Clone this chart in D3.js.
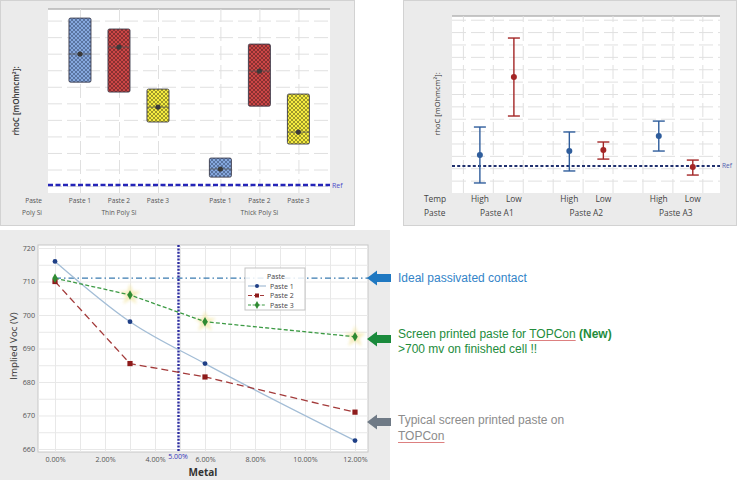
<!DOCTYPE html>
<html><head><meta charset="utf-8">
<script src="https://cdn.jsdelivr.net/npm/d3@7"></script>
<style>body{margin:0;background:#fff}svg{display:block}</style>
</head><body><svg id="c" width="744" height="480"></svg>
<script>
// ---------------- DATA ----------------
// Panel 1 (interval boxes, arbitrary units)
const pasteNames = ["Paste 1","Paste 2","Paste 3"];
const polyGroups = ["Thin Poly Si","Thick Poly Si"];
const boxPaste = ["Paste 1","Paste 2","Paste 3","Paste 1","Paste 2","Paste 3"];
const boxPoly  = ["Thin Poly Si","Thin Poly Si","Thin Poly Si","Thick Poly Si","Thick Poly Si","Thick Poly Si"];
const boxLow   = [6.28, 5.68, 3.87, 0.54, 4.83, 2.54];
const boxHigh  = [10.15, 9.49, 5.86, 1.69, 8.58, 5.56];
const boxMean  = [7.98, 8.40, 4.77, 1.03, 6.95, 3.26];
const boxRef = 0.06;

// Panel 2 (interval plot, arbitrary units)
const tempNames = ["High","Low"];
const pasteA = ["Paste A1","Paste A2","Paste A3"];
const ivPaste = ["Paste A1","Paste A1","Paste A2","Paste A2","Paste A3","Paste A3"];
const ivTemp  = ["High","Low","High","Low","High","Low"];
const ivLow   = [-0.19, 5.22, 0.78, 1.74, 2.39, 0.45];
const ivHigh  = [4.33, 11.52, 3.93, 3.12, 4.81, 1.66];
const ivMean  = [2.07, 8.37, 2.39, 2.47, 3.60, 1.10];
const ivRef = 1.18;

// Panel 3 (Implied Voc vs Metal)
const metal  = [0, 3, 6, 12];
const paste1 = [716, 698, 685.5, 662.5];
const paste2 = [710, 685.5, 681.5, 671];
const paste3 = [711, 706, 698, 693.5];
const idealVoc = 711;
const metalMark = 5;
const xTicks = [0, 2, 4, 6, 8, 10, 12];
const yTicks = [660, 670, 680, 690, 700, 710, 720];
const seriesNames = ["Paste 1","Paste 2","Paste 3"];

// ---------------- DRAW ----------------
const svg = d3.select("#c");
svg.append("rect").attr("width",744).attr("height",480).attr("fill","#fff");
const defs = svg.append("defs");
const F = "'Open Sans','Liberation Sans',Arial,sans-serif";
const A = "'Liberation Sans',Arial,sans-serif";

function hatch(id, color, ink){
  const p = defs.append("pattern").attr("id",id).attr("patternUnits","userSpaceOnUse")
    .attr("width",4).attr("height",4);
  p.append("rect").attr("width",4).attr("height",4).attr("fill",color);
  p.append("path").attr("d","M0,0L4,4M4,0L0,4M-1,3L1,5M3,-1L5,1M-1,1L1,-1M3,5L5,3")
    .attr("stroke",ink).attr("stroke-width",0.6).attr("stroke-opacity",0.8);
}
hatch("hb","#86a8de","#2a3a5a"); hatch("hr","#cc4646","#3a1a1a"); hatch("hy","#f6ec40","#3a3a10");
const hatchIds = ["hb","hr","hy"];

const glow = defs.append("filter").attr("id","glow").attr("x","-50%").attr("y","-50%").attr("width","200%").attr("height","200%");
glow.append("feGaussianBlur").attr("stdDeviation",1.4);

function gridStyle(g, dash){
  g.select(".domain").remove();
  g.selectAll("line").attr("stroke","#e0e0e0").attr("stroke-width",1).attr("stroke-dasharray",dash||null);
}

// ===== Panel 1 =====
svg.append("rect").attr("x",0.5).attr("y",0.5).attr("width",354).attr("height",225)
  .attr("fill","#ebebeb").attr("stroke","#d2d2d2");
const p1 = {l:48,t:9,r:330,b:193};
svg.append("rect").attr("x",p1.l).attr("y",p1.t).attr("width",p1.r-p1.l).attr("height",p1.b-p1.t).attr("fill","#fff");
svg.append("line").attr("x1",p1.l).attr("x2",p1.r).attr("y1",p1.t).attr("y2",p1.t).attr("stroke","#b4b4b4").attr("stroke-width",1.5);
const x1 = d3.scaleLinear().domain([-0.82,6.41]).range([p1.l,p1.r]);
const y1 = d3.scaleLinear().domain([-0.42,10.7]).range([p1.b,p1.t]);
const pos1 = boxPaste.map((p,i)=> pasteNames.indexOf(p) + polyGroups.indexOf(boxPoly[i])*3.6);

svg.append("g").attr("transform",`translate(${p1.l},0)`)
  .call(d3.axisLeft(y1).tickValues(d3.range(0,11)).tickSize(-(p1.r-p1.l)).tickFormat(""))
  .call(g=>gridStyle(g,"14,5"));
svg.append("g").attr("transform",`translate(0,${p1.b})`)
  .call(d3.axisBottom(x1).tickValues(pos1).tickSize(-(p1.b-p1.t)).tickFormat(""))
  .call(g=>gridStyle(g,"14,5"));

const b1 = svg.append("g");
pos1.forEach((p,i)=>{
  const cx = x1(p), w = 22;
  b1.append("rect").attr("x",cx-w/2).attr("y",y1(boxHigh[i])).attr("width",w)
    .attr("height",y1(boxLow[i])-y1(boxHigh[i])).attr("rx",1.5)
    .attr("fill",`url(#${hatchIds[pasteNames.indexOf(boxPaste[i])]})`)
    .attr("stroke","#3a3a4a").attr("stroke-width",0.9);
  b1.append("line").attr("x1",cx-w/2).attr("x2",cx+w/2).attr("y1",y1(boxMean[i])).attr("y2",y1(boxMean[i]))
    .attr("stroke","#555").attr("stroke-width",0.8);
  b1.append("circle").attr("cx",cx).attr("cy",y1(boxMean[i])).attr("r",2.6).attr("fill","#3a3a3a");
});
svg.append("line").attr("x1",p1.l).attr("x2",p1.r).attr("y1",y1(boxRef)).attr("y2",y1(boxRef))
  .attr("stroke","#2525b8").attr("stroke-width",2.6).attr("stroke-dasharray","5,2.5");
svg.append("text").attr("x",p1.r+2).attr("y",y1(boxRef)+2.5).text("Ref")
  .attr("font-family",F).attr("font-size",7).attr("fill","#4a4ac8");
const lab1 = svg.append("g").attr("font-family",F).attr("font-size",6.6).attr("fill","#555");
lab1.append("text").attr("x",42).attr("y",203).attr("text-anchor","end").text("Paste");
lab1.append("text").attr("x",42).attr("y",215).attr("text-anchor","end").text("Poly Si");
pos1.forEach((p,i)=>lab1.append("text").attr("x",x1(p)).attr("y",203).attr("text-anchor","middle").text(boxPaste[i]));
polyGroups.forEach(g=>{
  const ps = pos1.filter((p,i)=>boxPoly[i]===g);
  lab1.append("text").attr("x",x1(d3.mean(ps))).attr("y",215).attr("text-anchor","middle").text(g);
});
svg.append("text").attr("transform","translate(19,101) rotate(-90)").attr("text-anchor","middle")
  .attr("font-family",F).attr("font-size",8).attr("font-weight",600).attr("fill","#333")
  .text("rhoC [mOhmcm²]:");

// ===== Panel 2 =====
svg.append("rect").attr("x",403.5).attr("y",0.5).attr("width",333).attr("height",225)
  .attr("fill","#ebebeb").attr("stroke","#d2d2d2");
const p2 = {l:452,t:16,r:720,b:193};
svg.append("rect").attr("x",p2.l).attr("y",p2.t).attr("width",p2.r-p2.l).attr("height",p2.b-p2.t).attr("fill","#fff");
svg.append("line").attr("x1",p2.l).attr("x2",p2.r).attr("y1",p2.t).attr("y2",p2.t).attr("stroke","#b4b4b4").attr("stroke-width",1.5);
const x2 = d3.scaleLinear().domain([-0.82,7.06]).range([p2.l,p2.r]);
const y2 = d3.scaleLinear().domain([-1.0,13.3]).range([p2.b,p2.t]);
const pos2 = ivPaste.map((p,i)=> tempNames.indexOf(ivTemp[i]) + pasteA.indexOf(p)*2.63);
svg.append("g").attr("transform",`translate(${p2.l},0)`)
  .call(d3.axisLeft(y2).tickValues(d3.range(0,14)).tickSize(-(p2.r-p2.l)).tickFormat(""))
  .call(g=>gridStyle(g,"14,5"));
svg.append("g").attr("transform",`translate(0,${p2.b})`)
  .call(d3.axisBottom(x2).tickValues(d3.range(-0.5,7,0.88)).tickSize(-(p2.b-p2.t)).tickFormat(""))
  .call(g=>gridStyle(g,"14,5"));
svg.append("line").attr("x1",p2.l).attr("x2",p2.r).attr("y1",y2(ivRef)).attr("y2",y2(ivRef))
  .attr("stroke","#20306e").attr("stroke-width",2.2).attr("stroke-dasharray","3,2.2");
svg.append("text").attr("x",p2.r+2).attr("y",y2(ivRef)+2).text("Ref")
  .attr("font-family",F).attr("font-size",6.5).attr("fill","#5060b0");
const e2 = svg.append("g");
pos2.forEach((p,i)=>{
  const cx = x2(p), col = ivTemp[i]==="High" ? "#2f5d9c" : "#a32626";
  e2.append("line").attr("x1",cx).attr("x2",cx).attr("y1",y2(ivHigh[i])).attr("y2",y2(ivLow[i])).attr("stroke",col).attr("stroke-width",1.4);
  [ivHigh[i],ivLow[i]].forEach(v=>e2.append("line").attr("x1",cx-6).attr("x2",cx+6).attr("y1",y2(v)).attr("y2",y2(v)).attr("stroke",col).attr("stroke-width",1.4));
  e2.append("circle").attr("cx",cx).attr("cy",y2(ivMean[i])).attr("r",3).attr("fill",col);
});
const lab2 = svg.append("g").attr("font-family",F).attr("font-size",8.4).attr("fill","#444");
lab2.append("text").attr("x",424).attr("y",202).text("Temp");
lab2.append("text").attr("x",424).attr("y",216).text("Paste");
pos2.forEach((p,i)=>lab2.append("text").attr("x",x2(p)).attr("y",202).attr("text-anchor","middle").text(ivTemp[i]));
pasteA.forEach(g=>{
  const ps = pos2.filter((p,i)=>ivPaste[i]===g);
  lab2.append("text").attr("x",x2(d3.mean(ps))).attr("y",216).attr("text-anchor","middle").text(g);
});
svg.append("text").attr("transform","translate(440,104) rotate(-90)").attr("text-anchor","middle")
  .attr("font-family",F).attr("font-size",7.5).attr("fill","#333")
  .text("rhoC [mOhmcm²]:");

// ===== Panel 3 =====
svg.append("rect").attr("x",0).attr("y",230).attr("width",390).attr("height",250).attr("fill","#ebebeb");
const p3 = {l:38,t:245,r:368,b:452};
svg.append("rect").attr("x",p3.l).attr("y",p3.t).attr("width",p3.r-p3.l).attr("height",p3.b-p3.t)
  .attr("fill","#fff").attr("stroke","#c8c8c8");
const x3 = d3.scaleLinear().domain([-0.68,12.52]).range([p3.l,p3.r]);
const y3 = d3.scaleLinear().domain([659.1,720.9]).range([p3.b,p3.t]);
svg.append("g").attr("transform",`translate(${p3.l},0)`)
  .call(d3.axisLeft(y3).tickValues(d3.range(660,721,5)).tickSize(-(p3.r-p3.l)).tickFormat(""))
  .call(g=>{g.select(".domain").remove();g.selectAll("line").attr("stroke","#e8e8e8");});
svg.append("g").attr("transform",`translate(0,${p3.b})`)
  .call(d3.axisBottom(x3).tickValues(d3.range(0,13,1)).tickSize(-(p3.b-p3.t)).tickFormat(""))
  .call(g=>{g.select(".domain").remove();g.selectAll("line").attr("stroke","#e8e8e8");});
// tick labels
svg.append("g").attr("transform",`translate(${p3.l-3},0)`)
  .call(d3.axisLeft(y3).tickValues(yTicks).tickSize(0).tickPadding(0))
  .call(g=>{g.select(".domain").remove();g.selectAll("text").attr("font-family",F).attr("font-size",7.2).attr("fill","#555");});
svg.append("g").attr("transform",`translate(0,${p3.b+3})`)
  .call(d3.axisBottom(x3).tickValues(xTicks).tickSize(0).tickPadding(2).tickFormat(d=>d3.format(".2f")(d)+"%"))
  .call(g=>{g.select(".domain").remove();g.selectAll("text").attr("font-family",F).attr("font-size",7.2).attr("fill","#555");});
svg.append("text").attr("x",x3(6)-2).attr("y",476).attr("text-anchor","middle").attr("font-family",F)
  .attr("font-size",10).attr("font-weight",700).attr("fill","#333").text("Metal");
svg.append("text").attr("transform","translate(17,346) rotate(-90)").attr("text-anchor","middle")
  .attr("font-family",F).attr("font-size",9.8).attr("fill","#333").text("Implied Voc (V)");

// ideal line
svg.append("line").attr("x1",x3(0)).attr("x2",p3.r).attr("y1",y3(idealVoc)).attr("y2",y3(idealVoc))
  .attr("stroke","#3a7bb0").attr("stroke-width",1.4).attr("stroke-dasharray","6,3,1.5,3");
// vertical mark line
svg.append("line").attr("x1",x3(metalMark)-1.5).attr("x2",x3(metalMark)-1.5).attr("y1",p3.t).attr("y2",p3.b)
  .attr("stroke","#2c2ca0").attr("stroke-width",2.4).attr("stroke-dasharray","2,1.4");
svg.append("text").attr("x",x3(metalMark)-2).attr("y",459).attr("text-anchor","middle")
  .attr("font-family",F).attr("font-size",7).attr("fill","#3434b8").text(d3.format(".2f")(metalMark)+"%");

const line = d3.line().x((d,i)=>x3(metal[i])).y(d=>y3(d));
// glow stars on paste 3
paste3.forEach((v,i)=>{ if(i===0) return;
  svg.append("path").attr("d",d3.symbol(d3.symbolStar,150)()).attr("transform",`translate(${x3(metal[i])},${y3(v)})`)
    .attr("fill","#f3e7a8").attr("opacity",0.75).attr("filter","url(#glow)");
});
svg.append("path").attr("d",line.curve(d3.curveMonotoneX)(paste1)).attr("fill","none").attr("stroke","#a3bdd6").attr("stroke-width",1.3);
svg.append("path").attr("d",d3.line().x((d,i)=>x3(metal[i])).y(d=>y3(d))(paste2)).attr("fill","none").attr("stroke","#a33a3a").attr("stroke-width",1.3).attr("stroke-dasharray","7,4");
svg.append("path").attr("d",d3.line().x((d,i)=>x3(metal[i])).y(d=>y3(d))(paste3)).attr("fill","none").attr("stroke","#3c9a44").attr("stroke-width",1.3).attr("stroke-dasharray","4,2.2");
paste1.forEach((v,i)=>svg.append("circle").attr("cx",x3(metal[i])).attr("cy",y3(v)).attr("r",2.4).attr("fill","#1f3f86"));
paste2.forEach((v,i)=>svg.append("rect").attr("x",x3(metal[i])-2.6).attr("y",y3(v)-2.6).attr("width",5.2).attr("height",5.2).attr("fill","#8e1b1b"));
paste3.forEach((v,i)=>svg.append("path").attr("d",d3.symbol(d3.symbolDiamond,26)()).attr("transform",`translate(${x3(metal[i])},${y3(v)})`).attr("fill","#2f8a32"));

// legend
const lg = svg.append("g");
lg.append("rect").attr("x",245).attr("y",268).attr("width",60).attr("height",42).attr("fill","#fff").attr("fill-opacity",0.85).attr("stroke","#c4c4c4");
lg.append("text").attr("x",276).attr("y",279).attr("text-anchor","middle").attr("font-family",F).attr("font-size",7).attr("fill","#444").text("Paste");
const lgStyle = [{c:"#a3bdd6",d:null,m:"c",mc:"#1f3f86"},{c:"#a33a3a",d:"4,2",m:"s",mc:"#8e1b1b"},{c:"#3c9a44",d:"3,1.6",m:"d",mc:"#2f8a32"}];
seriesNames.forEach((n,i)=>{
  const y = 286 + i*9.5, s = lgStyle[i];
  lg.append("line").attr("x1",248).attr("x2",266).attr("y1",y).attr("y2",y).attr("stroke",s.c).attr("stroke-width",1.2).attr("stroke-dasharray",s.d);
  if(s.m==="c") lg.append("circle").attr("cx",257).attr("cy",y).attr("r",2).attr("fill",s.mc);
  if(s.m==="s") lg.append("rect").attr("x",255).attr("y",y-2).attr("width",4).attr("height",4).attr("fill",s.mc);
  if(s.m==="d") lg.append("path").attr("d",d3.symbol(d3.symbolDiamond,18)()).attr("transform",`translate(257,${y})`).attr("fill",s.mc);
  lg.append("text").attr("x",270).attr("y",y+2.5).attr("font-family",F).attr("font-size",7).attr("fill","#444").text(n);
});

// arrows
function arrow(cy,col){
  svg.append("path").attr("d",`M367,${cy} L377,${cy-7.5} L377,${cy-4} L391,${cy-4} L391,${cy+4} L377,${cy+4} L377,${cy+7.5} Z`).attr("fill",col);
}
arrow(278,"#1f78c1"); arrow(339,"#1a8a3c"); arrow(422,"#6f7a86");

// annotations
function annot(x,y,parts,col){
  const t = svg.append("text").attr("x",x).attr("y",y).attr("font-family",A).attr("font-size",12).attr("fill",col);
  parts.forEach(p=>{
    const ts = t.append("tspan").text(p.t);
    if(p.b) ts.attr("font-weight",700);
    if(p.u) ts.attr("data-u","1");
  });
  t.selectAll("tspan").each(function(){
    if(this.getAttribute("data-u")){
      const start = this.getStartPositionOfChar(0).x;
      const w = this.getComputedTextLength();
      svg.append("line").attr("x1",start).attr("x2",start+w).attr("y1",y+2.5).attr("y2",y+2.5).attr("stroke","#d46060").attr("stroke-width",0.8);
    }
  });
}
annot(398,282,[{t:"Ideal passivated contact"}],"#3384c8");
annot(398,338,[{t:"Screen printed paste for "},{t:"TOPCon",u:1},{t:" (New)",b:1}],"#238c3c");
annot(398,353,[{t:">700 mv on finished cell !!"}],"#238c3c");
annot(398,424,[{t:"Typical screen printed paste on"}],"#8c8c8c");
annot(398,440,[{t:"TOPCon",u:1}],"#8c8c8c");
</script></body></html>
